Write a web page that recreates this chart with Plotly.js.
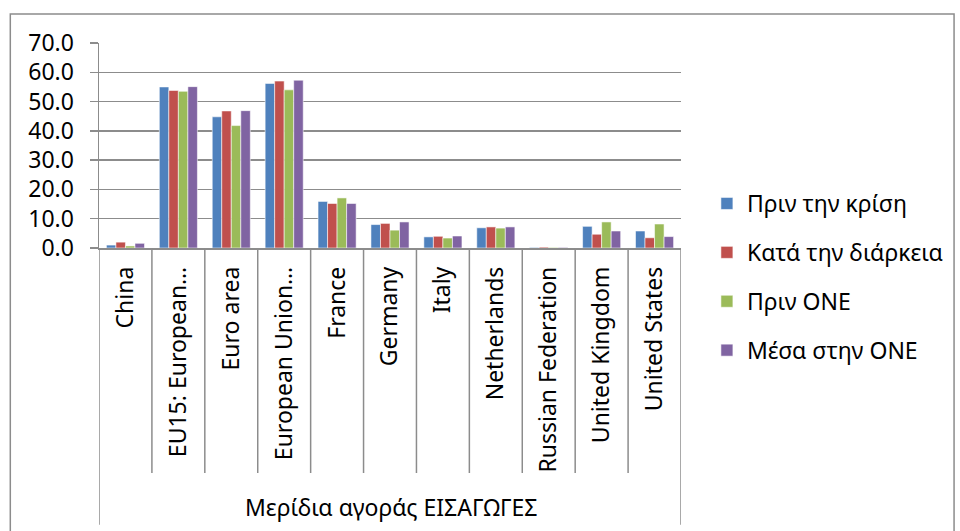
<!DOCTYPE html>
<html>
<head>
<meta charset="utf-8">
<script src="https://cdn.plot.ly/plotly-3.0.1.min.js"></script>
<style>html,body{margin:0;padding:0;background:#fff;}#chart{width:960px;height:531px;}</style>
</head>
<body>
<div id="chart"></div>
<script>
const categories = ["China", "EU15: European…", "Euro area", "European Union…", "France", "Germany", "Italy", "Netherlands", "Russian Federation", "United Kingdom", "United States"];
const seriesNames = ["Πριν την κρίση", "Κατά την διάρκεια", "Πριν ΟΝΕ", "Μέσα στην ΟΝΕ"];
const beforeCrisis = [1.0, 55.0, 44.8, 56.2, 15.9, 8.0, 3.8, 6.9, 0.2, 7.4, 5.8];
const duringCrisis = [2.0, 53.8, 46.8, 57.0, 15.2, 8.4, 4.0, 7.2, 0.3, 4.7, 3.5];
const beforeEMU = [0.7, 53.5, 41.8, 54.0, 17.1, 6.1, 3.4, 6.8, 0.2, 8.9, 8.2];
const inEMU = [1.6, 55.1, 46.9, 57.3, 15.2, 8.9, 4.1, 7.2, 0.2, 5.8, 3.9];
const yTicks = [0, 10, 20, 30, 40, 50, 60, 70];
const axisTitle = "Μερίδια αγοράς ΕΙΣΑΓΩΓΕΣ";

const colors = ["#4F81BD", "#C0504D", "#9BBB59", "#8064A2"];
const allSeries = [beforeCrisis, duringCrisis, beforeEMU, inEMU];
const FONT = "Noto Sans, sans-serif";
const FS = 23;
const GRID = "#8c8c8c";

const traces = allSeries.map((vals, i) => ({
  type: "bar",
  name: seriesNames[i],
  x: categories,
  y: vals,
  legendgroup: "g" + i,
  marker: {color: colors[i], line: {color: "rgba(255,255,255,0.55)", width: 1}},
  hoverinfo: "x+y+name"
}));

const shapes = [];
for (let i = 0; i <= categories.length; i++) {
  const outer = (i === 0 || i === categories.length);
  shapes.push({type: "line", xref: "x", yref: "paper", x0: i - 0.5, x1: i - 0.5,
    y0: 0, y1: outer ? -1.35 : -1.0976, line: {color: GRID, width: 1.5}});
}
shapes.push({type: "rect", xref: "paper", yref: "paper",
  x0: (10 - 99) / 584, x1: (957 - 99) / 584, y0: -1.45, y1: (248 - 14) / 205,
  line: {color: GRID, width: 1.5}, fillcolor: "rgba(0,0,0,0)", layer: "below"});

const layout = {
  width: 960, height: 531,
  margin: {l: 99, r: 277, t: 43, b: 283, pad: 0},
  paper_bgcolor: "#fff", plot_bgcolor: "#fff",
  font: {family: FONT, size: FS, color: "#000"},
  barmode: "group", bargap: 0.28, bargroupgap: 0,
  showlegend: true,
  legend: {x: (709 - 99) / 584, xanchor: "left", y: (248 - 277) / 205, yanchor: "middle",
    font: {family: FONT, size: FS, color: "#000"}, traceorder: "grouped", tracegroupgap: 16,
    bgcolor: "rgba(0,0,0,0)", itemwidth: 30},
  xaxis: {type: "category", tickangle: -90, showline: true, linecolor: GRID, linewidth: 1.5,
    ticks: "", showgrid: false, ticklabelstandoff: 8, tickfont: {family: FONT, size: FS, color: "#000"},
    range: [-0.5, categories.length - 0.5], fixedrange: true},
  yaxis: {range: [0, 70], tickvals: yTicks, ticktext: yTicks.map(v => v.toFixed(1)),
    showgrid: true, gridcolor: GRID, gridwidth: 1.5, showline: true, linecolor: GRID, linewidth: 1.5,
    ticks: "outside", ticklen: 8, tickcolor: GRID, tickwidth: 1.5, ticklabelstandoff: 11,
    tickfont: {family: FONT, size: FS, color: "#000"}, zeroline: false, fixedrange: true},
  shapes: shapes,
  annotations: [{text: axisTitle, xref: "paper", yref: "paper", x: 0.502, y: (248 - 507) / 205,
    xanchor: "center", yanchor: "middle", showarrow: false, font: {family: FONT, size: FS, color: "#000"}}]
};

Plotly.newPlot("chart", traces, layout, {displayModeBar: false, staticPlot: true});
</script>
</body>
</html>
